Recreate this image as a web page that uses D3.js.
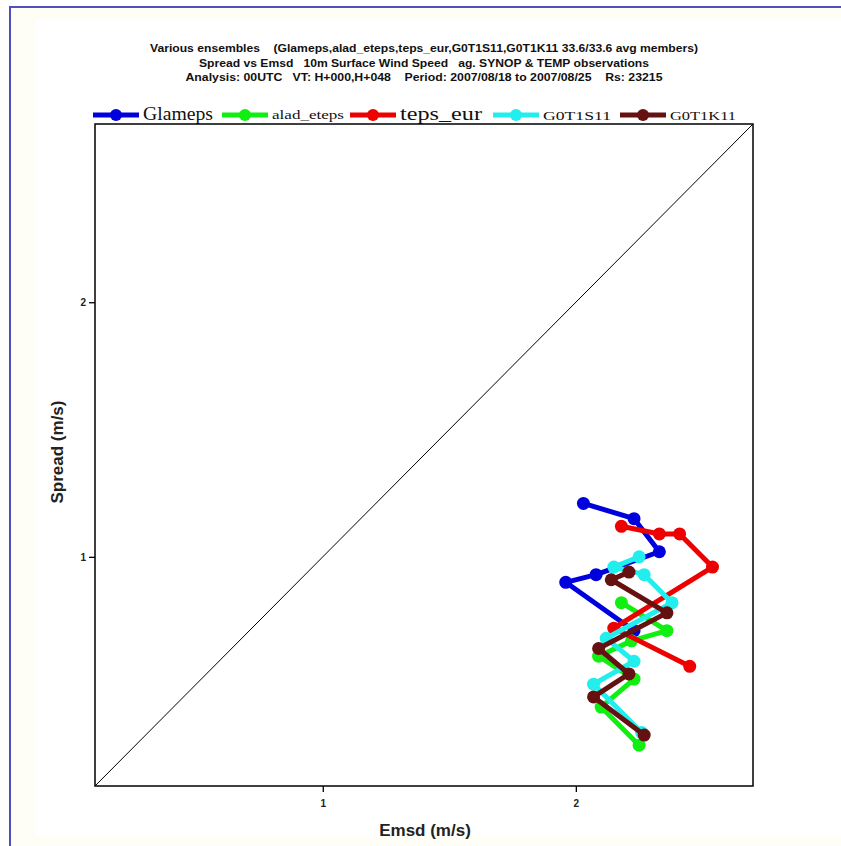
<!DOCTYPE html>
<html>
<head>
<meta charset="utf-8">
<script src="https://cdn.jsdelivr.net/npm/d3@7"></script>
<style>
  body { margin: 0; background: #fff; overflow: hidden; }
</style>
</head>
<body>
<script>
// series names and colours
const seriesNames = ['Glameps', 'alad_eteps', 'teps_eur', 'G0T1S11', 'G0T1K11'];
const seriesColors = ['#0000dd', '#11ee11', '#ee0000', '#22eeee', '#661111'];

// [Emsd, Spread] pairs
const glameps = [[2.03, 1.21], [2.23, 1.15], [2.33, 1.02], [2.08, 0.93], [1.96, 0.90], [2.23, 0.71]];
const aladEteps = [[2.18, 0.82], [2.36, 0.71], [2.22, 0.67], [2.09, 0.61], [2.23, 0.52], [2.10, 0.41], [2.25, 0.26]];
const tepsEur = [[2.18, 1.12], [2.33, 1.09], [2.41, 1.09], [2.54, 0.96], [2.15, 0.72], [2.45, 0.57]];
const g0t1s11 = [[2.25, 1.00], [2.15, 0.96], [2.27, 0.93], [2.38, 0.82], [2.12, 0.68], [2.23, 0.59], [2.07, 0.50], [2.26, 0.31]];
const g0t1k11 = [[2.21, 0.94], [2.14, 0.91], [2.36, 0.78], [2.09, 0.64], [2.21, 0.54], [2.07, 0.45], [2.27, 0.30]];
const allSeries = [glameps, aladEteps, tepsEur, g0t1s11, g0t1k11];

const xTicks = [1, 2];
const yTicks = [1, 2];
const domain = [0.1, 2.7];

const titleLines = [
  'Various ensembles    (Glameps,alad_eteps,teps_eur,G0T1S11,G0T1K11 33.6/33.6 avg members)',
  'Spread vs Emsd   10m Surface Wind Speed   ag. SYNOP & TEMP observations',
  'Analysis: 00UTC   VT: H+000,H+048    Period: 2007/08/18 to 2007/08/25    Rs: 23215'
];

// plot box
const plotL = 95, plotR = 753, plotT = 124, plotB = 786;

const svg = d3.select('body').append('svg')
  .attr('width', 841)
  .attr('height', 846)
  .style('display', 'block');

// outer frame: only top and left edges are inside the picture
svg.append('rect')
  .attr('x', 10).attr('y', 7)
  .attr('width', 831).attr('height', 839)
  .attr('fill', '#fffef6');
svg.append('rect')
  .attr('x', 36).attr('y', 20)
  .attr('width', 805).attr('height', 816)
  .attr('fill', '#fff');
svg.append('path')
  .attr('d', 'M10,846 V7 H841')
  .attr('fill', 'none')
  .attr('stroke', '#5050b8')
  .attr('stroke-width', 2);

const x = d3.scaleLinear().domain(domain).range([plotL, plotR]);
const y = d3.scaleLinear().domain(domain).range([plotB, plotT]);

// titles
const titleWidths = [548, 450, 477];
svg.append('g')
  .selectAll('text')
  .data(titleLines)
  .join('text')
  .attr('x', 424)
  .attr('y', (d, i) => 52 + i * 14.5)
  .attr('text-anchor', 'middle')
  .attr('font-family', 'Liberation Sans Narrow, Liberation Sans, Arial, sans-serif')
  .attr('font-size', 10.5)
  .attr('font-weight', 'bold')
  .attr('fill', '#111')
  .style('white-space', 'pre')
  .attr('textLength', (d, i) => titleWidths[i])
  .attr('lengthAdjust', 'spacingAndGlyphs')
  .text((d) => d);

// legend
const legendX = [93, 222, 350, 493, 620];
const legendSize = [18, 11.5, 18, 13, 13];
const legendW = [70, 72, 82, 68, 66];
const legend = svg.append('g').selectAll('g')
  .data(seriesNames)
  .join('g')
  .attr('transform', (d, i) => `translate(${legendX[i]}, 115)`);
legend.append('line')
  .attr('x1', 0).attr('x2', 46)
  .attr('stroke', (d, i) => seriesColors[i])
  .attr('stroke-width', 5);
legend.append('circle')
  .attr('cx', 23).attr('r', 6)
  .attr('fill', (d, i) => seriesColors[i]);
legend.append('text')
  .attr('x', 50)
  .attr('y', (d, i) => (i === 1 ? 4 : 5))
  .attr('font-family', 'Liberation Serif, DejaVu Serif, serif')
  .attr('font-size', (d, i) => legendSize[i])
  .attr('fill', '#111')
  .attr('textLength', (d, i) => legendW[i])
  .attr('lengthAdjust', 'spacingAndGlyphs')
  .text((d) => d);

// plot frame and diagonal
svg.append('rect')
  .attr('x', plotL).attr('y', plotT)
  .attr('width', plotR - plotL).attr('height', plotB - plotT)
  .attr('fill', '#fff')
  .attr('stroke', '#000')
  .attr('stroke-width', 1.5);
svg.append('line')
  .attr('x1', x(domain[0])).attr('y1', y(domain[0]))
  .attr('x2', x(domain[1])).attr('y2', y(domain[1]))
  .attr('stroke', '#000')
  .attr('stroke-width', 1);

// axes
const gx = svg.append('g').attr('transform', `translate(0, ${plotB})`)
  .call(d3.axisBottom(x).tickValues(xTicks).tickSize(6).tickFormat(d3.format('d')));
const gy = svg.append('g').attr('transform', `translate(${plotL}, 0)`)
  .call(d3.axisLeft(y).tickValues(yTicks).tickSize(6).tickFormat(d3.format('d')));
[gx, gy].forEach((g) => {
  g.select('.domain').remove();
  g.selectAll('.tick line').attr('stroke', '#000').attr('stroke-width', 1.3);
  g.selectAll('.tick text')
    .attr('font-family', 'Liberation Sans, Arial, sans-serif')
    .attr('font-size', 10)
    .attr('font-weight', 'bold')
    .attr('fill', '#222');
});
gx.selectAll('.tick text').attr('dy', '1.2em');

// axis titles
svg.append('text')
  .attr('x', 425).attr('y', 836)
  .attr('text-anchor', 'middle')
  .attr('font-family', 'Liberation Sans, Arial, sans-serif')
  .attr('font-size', 17)
  .attr('font-weight', 'bold')
  .attr('fill', '#222')
  .text('Emsd (m/s)');
svg.append('text')
  .attr('transform', 'translate(63, 452) rotate(-90)')
  .attr('text-anchor', 'middle')
  .attr('font-family', 'Liberation Sans, Arial, sans-serif')
  .attr('font-size', 17)
  .attr('font-weight', 'bold')
  .attr('fill', '#222')
  .text('Spread (m/s)');

// series
const line = d3.line().x((d) => x(d[0])).y((d) => y(d[1]));
const series = svg.append('g').selectAll('g')
  .data(allSeries)
  .join('g')
  .attr('fill', (d, i) => seriesColors[i]);
series.append('path')
  .attr('d', line)
  .attr('fill', 'none')
  .attr('stroke', (d, i) => seriesColors[i])
  .attr('stroke-width', 5)
  .attr('stroke-linejoin', 'round');
series.selectAll('circle')
  .data((d) => d)
  .join('circle')
  .attr('cx', (d) => x(d[0]))
  .attr('cy', (d) => y(d[1]))
  .attr('r', 6.5);
</script>
</body>
</html>
